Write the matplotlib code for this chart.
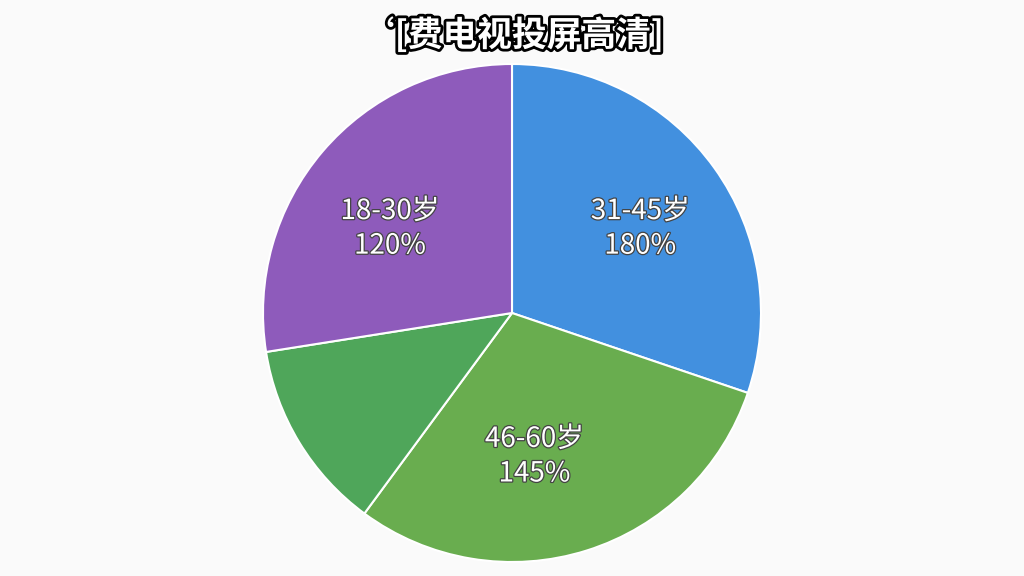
import matplotlib.pyplot as plt
import matplotlib.patheffects as pe

plt.rcParams['font.family'] = ['Noto Sans CJK SC', 'DejaVu Sans']

# slice shares (clockwise from 12 o'clock)
groups = ['31-45岁', '46-60岁', '', '18-30岁']
shares = [30.2, 29.9, 12.4, 27.5]
pct_text = ['180%', '145%', '', '120%']
colors = ['#4290df', '#69ad4f', '#4fa65a', '#8e5bbb']
# where the label sits inside each slice (pie radius units)
label_pos = [(0.515, 0.34), (0.09, -0.575), None, (-0.49, 0.34)]

labels = [f'{g}\n{p}' if g else '' for g, p in zip(groups, pct_text)]

fig = plt.figure(figsize=(10.24, 5.76), dpi=100)
fig.patch.set_facecolor('#fafafa')

ax = fig.add_axes([263 / 1024, 14 / 576, 498 / 1024, 498 / 576])
wedges, texts = ax.pie(shares, labels=labels, colors=colors, startangle=90,
                       counterclock=False, labeldistance=0.6, radius=1.0,
                       wedgeprops=dict(edgecolor='white', linewidth=1.5),
                       textprops=dict(color='white', fontsize=20,
                                      ha='center', va='center',
                                      linespacing=1.2))
for t, pos in zip(texts, label_pos):
    if pos is not None:
        t.set_position(pos)
    t.set_path_effects([pe.withStroke(linewidth=1.8, foreground='#444444')])
ax.set_aspect('equal')
ax.set_xlim(-1.0, 1.0)
ax.set_ylim(-1.0, 1.0)

fig.text(0.5, 1 - 35 / 576, '‘[费电视投屏高清]', ha='center', va='center',
         fontsize=25, fontweight='bold', color='white',
         path_effects=[pe.withStroke(linewidth=4, foreground='black')])

fig.savefig('out.png', dpi=100, facecolor=fig.get_facecolor())
